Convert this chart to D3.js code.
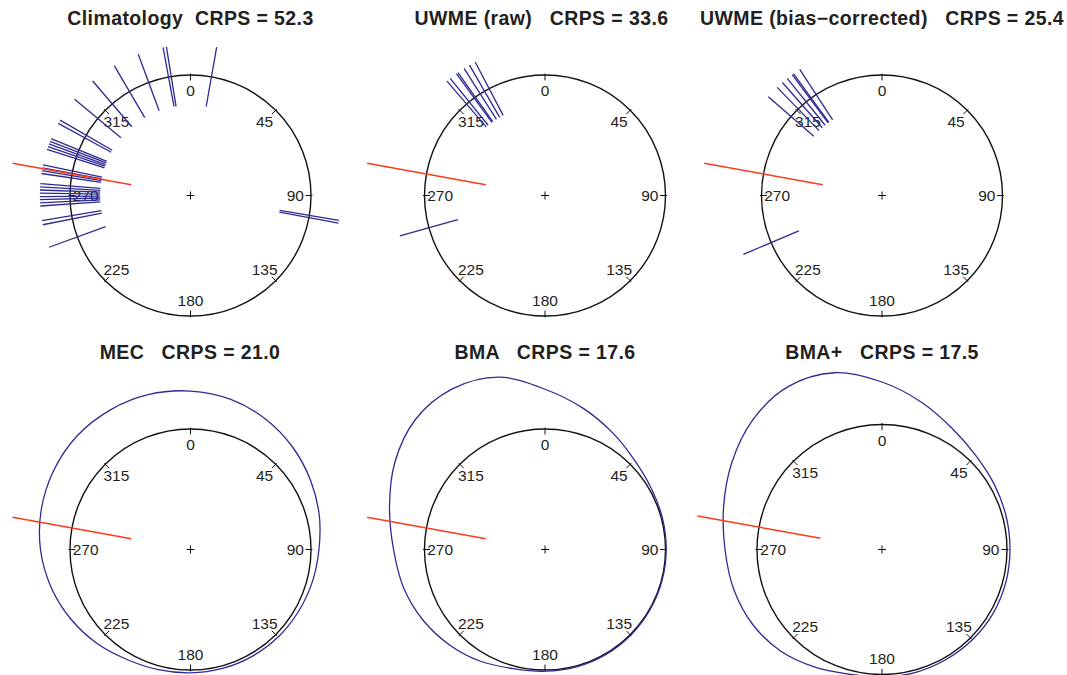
<!DOCTYPE html>
<html>
<head>
<meta charset="utf-8">
<script src="https://cdn.jsdelivr.net/npm/d3@7"></script>
<style>
  body { margin: 0; background: #fff; }
  svg { display: block; }
  text { font-family: "Liberation Sans", Arial, Helvetica, sans-serif; fill: #231f20; }
</style>
</head>
<body>
<svg id="chart" width="1067" height="675"></svg>
<script>
// ---- data ----
const panelNames = ['Climatology', 'UWME (raw)', 'UWME (bias\u2212corrected)', 'MEC', 'BMA', 'BMA+'];
const crpsValues = ['52.3', '33.6', '25.4', '21.0', '17.6', '17.5'];
const tickDegrees = [0, 45, 90, 135, 180, 225, 270, 315];

// verifying wind direction (degrees)
const observedDir = 280.3;

// ensemble / climatology members (degrees)
const climatologyDirs = [10, 349.5, 350.8, 339.7, 329.6, 319.5, 309.7, 300, 298.6,
  292.2, 291.1, 290, 288.9, 287.8, 281.7, 280.6, 279.5, 278.4,
  274.5, 273.3, 272.1, 270.9, 269.6, 268.4, 267.2, 266,
  260.4, 258.8, 249.9, 99.5, 100.6];
const uwmeRawDirs = [319.4, 321, 324, 324.7, 327.5, 329.9, 332.4, 254.5];
const uwmeBiasCorrDirs = [311, 315.9, 318.6, 321, 323.4, 324, 326.9, 247];

// predictive densities, radial excess as a fraction of the unit circle
const densityDirs = [0, 15, 30, 45, 60, 75, 90, 105, 120, 135, 150, 165,
  180, 195, 210, 225, 240, 255, 270, 285, 300, 315, 330, 345];
const mecDensity = [0.315, 0.290, 0.249, 0.200, 0.150, 0.106, 0.066, 0.046, 0.033, 0.028, 0.024, 0.022,
  0.024, 0.033, 0.054, 0.100, 0.149, 0.199, 0.245, 0.282, 0.311, 0.332, 0.336, 0.332];
const bmaDensity = [0.330, 0.215, 0.120, 0.050, 0.018, 0.009, 0.006, 0.005, 0.005, 0.006, 0.007, 0.008,
  0.010, 0.023, 0.071, 0.120, 0.170, 0.216, 0.257, 0.336, 0.440, 0.523, 0.539, 0.481];
const bmaPlusDensity = [0.340, 0.220, 0.120, 0.062, 0.038, 0.028, 0.024, 0.025, 0.025, 0.022, 0.019, 0.019,
  0.020, 0.032, 0.084, 0.148, 0.196, 0.228, 0.256, 0.312, 0.388, 0.464, 0.504, 0.464];

// ---- layout ----
const panels = [
  { cx: 190.5, cy: 195.5, R: 120.5, tx: 190.5, ty: 25, members: climatologyDirs },
  { cx: 545, cy: 195.5, R: 120.5, tx: 541.5, ty: 25, members: uwmeRawDirs },
  { cx: 882, cy: 195.5, R: 120.5, tx: 882, ty: 25, members: uwmeBiasCorrDirs },
  { cx: 190.5, cy: 549.5, R: 120.5, tx: 190, ty: 359, density: mecDensity },
  { cx: 545, cy: 549.5, R: 120.5, tx: 545, ty: 359, density: bmaDensity },
  { cx: 882, cy: 549.5, R: 125, tx: 882, ty: 359, density: bmaPlusDensity }
];
const titleGap = ['  ', '   ', '   ', '   ', '   ', '   '];

const blue = '#2e2a92';
const red = '#fb3b1c';

const svg = d3.select('#chart');
const angle = d3.scaleLinear().domain([0, 360]).range([0, 2 * Math.PI]);

panels.forEach((p, i) => {
  const r = d3.scaleLinear().domain([0, 1]).range([0, p.R]);
  const radial = d3.lineRadial()
    .angle(d => angle(d[0]))
    .radius(d => r(d[1]));

  svg.append('text')
    .attr('x', p.tx)
    .attr('y', p.ty)
    .attr('text-anchor', 'middle')
    .attr('font-size', 19.5)
    .attr('font-weight', 'bold')
    .attr('letter-spacing', 0.4)
    .attr('xml:space', 'preserve')
    .style('white-space', 'pre')
    .text(panelNames[i] + titleGap[i] + 'CRPS = ' + crpsValues[i]);

  const g = svg.append('g').attr('transform', `translate(${p.cx},${p.cy})`);

  // unit circle
  g.append('circle')
    .attr('r', r(1))
    .attr('fill', 'none')
    .attr('stroke', '#111')
    .attr('stroke-width', 1.4);

  // ticks and labels
  g.selectAll('.tick')
    .data(tickDegrees)
    .enter()
    .append('path')
    .attr('class', 'tick')
    .attr('d', d => radial([[d, 0.955], [d, 1.012]]))
    .attr('stroke', '#111')
    .attr('stroke-width', 1);

  g.selectAll('.lab')
    .data(tickDegrees)
    .enter()
    .append('text')
    .attr('class', 'lab')
    .attr('x', d => d3.pointRadial(angle(d), r(0.87))[0])
    .attr('y', d => d3.pointRadial(angle(d), r(0.87))[1])
    .attr('text-anchor', 'middle')
    .attr('dominant-baseline', 'central')
    .attr('font-size', 15.5)
    .text(d => d);

  // centre mark
  g.append('path')
    .attr('d', 'M-4,0H4M0,-4V4')
    .attr('stroke', '#111')
    .attr('stroke-width', 1);

  if (p.members) {
    g.selectAll('.member')
      .data(p.members)
      .enter()
      .append('path')
      .attr('class', 'member')
      .attr('d', d => radial([[d, 0.75], [d, 1.25]]))
      .attr('stroke', blue)
      .attr('stroke-width', 1.3);
  }

  if (p.density) {
    const pts = densityDirs.map((a, k) => [a, 1 + p.density[k]]);
    const curve = d3.lineRadial()
      .angle(d => angle(d[0]))
      .radius(d => r(d[1]))
      .curve(d3.curveCatmullRomClosed.alpha(0.5));
    g.append('path')
      .attr('d', curve(pts))
      .attr('fill', 'none')
      .attr('stroke', blue)
      .attr('stroke-width', 1.3);
  }

  // verifying observation
  g.append('path')
    .attr('d', radial([[observedDir, 0.5], [observedDir, 1.5]]))
    .attr('stroke', red)
    .attr('stroke-width', 1.5);
});
</script>
</body>
</html>
